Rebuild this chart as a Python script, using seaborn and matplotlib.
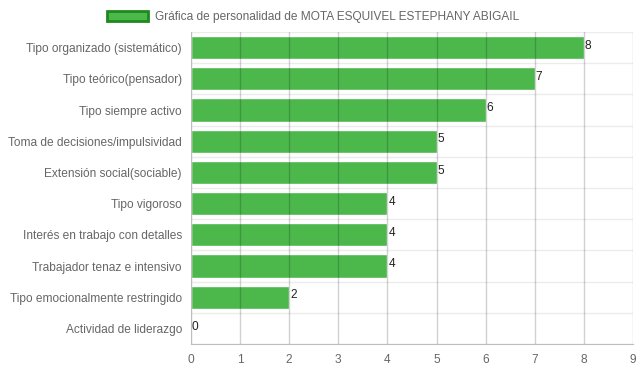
import numpy as np
import pandas as pd
import seaborn as sns
import matplotlib.pyplot as plt
from matplotlib.patches import Patch
from matplotlib.ticker import FixedLocator

categorias = ["Tipo organizado (sistemático)", "Tipo teórico(pensador)", "Tipo siempre activo",
              "Toma de decisiones/impulsividad", "Extensión social(sociable)", "Tipo vigoroso",
              "Interés en trabajo con detalles", "Trabajador tenaz e intensivo",
              "Tipo emocionalmente restringido", "Actividad de liderazgo"]
valores = [8, 7, 6, 5, 5, 4, 4, 4, 2, 0]
titulo = "Gráfica de personalidad de MOTA ESQUIVEL ESTEPHANY ABIGAIL"

df = pd.DataFrame({"cat": categorias, "val": valores})

sns.set_style("white")
plt.rcParams["font.family"] = ["Liberation Sans", "DejaVu Sans"]

fig = plt.figure(figsize=(6.39, 3.72), dpi=100)
ax = fig.add_axes([191/639, 1-344/372, 442/639, 312/372])

verde = "#4cb84c"
sns.barplot(data=df, x="val", y="cat", orient="h", color=verde, saturation=1,
            width=0.74, ax=ax, zorder=1)

ax.set_xlim(0, 9)
ax.set_ylim(len(categorias) - 0.5, -0.5)
ax.set_xticks(range(10))
ax.set_xlabel("")
ax.set_ylabel("")

# gridlines (vertical ones drawn over the bars, like the original)
for x in range(1, 10):
    ax.axvline(x, color=(0, 0, 0, 0.18), lw=1, zorder=3)
ax.yaxis.set_minor_locator(FixedLocator(np.arange(-0.5, len(categorias), 1)))
ax.grid(which="minor", axis="y", color="#ececec", lw=1, zorder=0)

for s in ["top", "right"]:
    ax.spines[s].set_visible(False)
ax.spines["left"].set_visible(False)
ax.spines["bottom"].set_color("#bdbdbd")
ax.axvline(0, color="#bdbdbd", lw=1, zorder=3)

ax.tick_params(axis="x", length=6, color="#cccccc", labelsize=8.6, labelcolor="#666666", pad=1)
ax.tick_params(axis="y", which="major", length=0, labelsize=8.6, labelcolor="#666666", pad=6.5)
ax.tick_params(axis="y", which="minor", length=8, color="#ececec")

for i, v in enumerate(valores):
    ax.text(v + 0.02, i - 0.06, str(v), fontsize=8.6, color="#222222", ha="left", va="center", zorder=4)

handle = Patch(facecolor=verde, edgecolor="#1e8a1e", linewidth=2)
fig.legend([handle], [titulo], loc="upper center", bbox_to_anchor=(0.49, 1.0), frameon=False,
           fontsize=8.6, labelcolor="#666666", handlelength=3.4, handleheight=0.9, handletextpad=0.6)

fig.savefig("out.png", dpi=100)
